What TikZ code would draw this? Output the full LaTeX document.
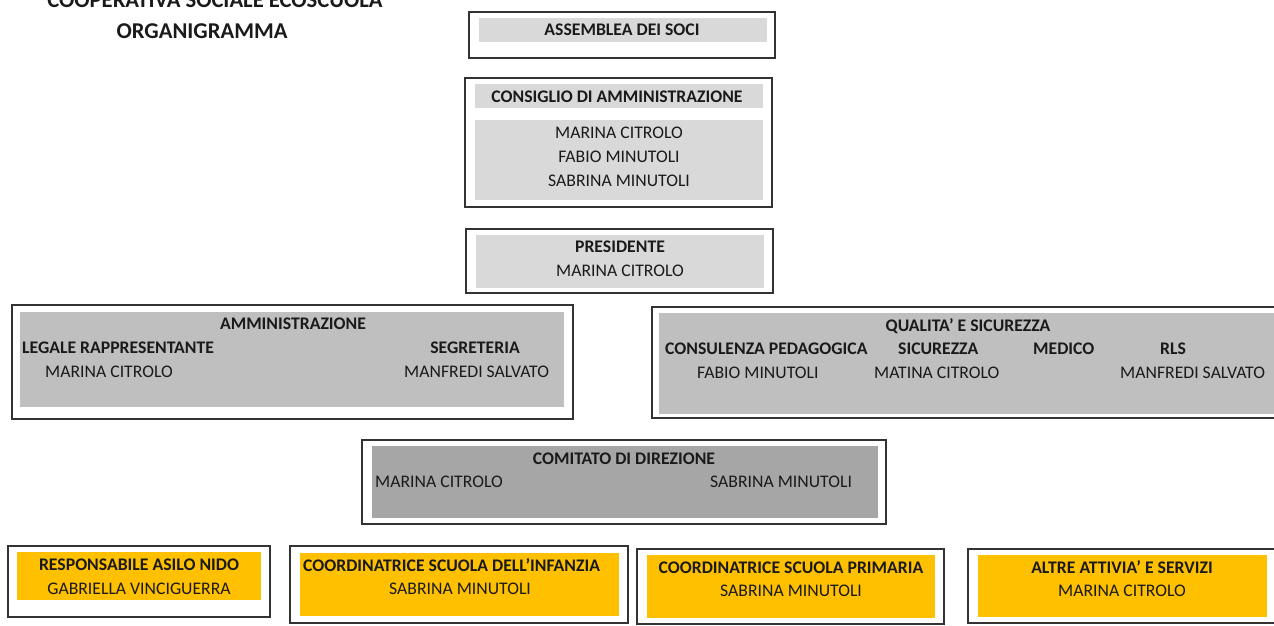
\documentclass[tikz,border=0pt]{standalone}
\usepackage{fontspec}
\setmainfont{Carlito}
\definecolor{gA}{HTML}{D9D9D9}
\definecolor{gB}{HTML}{BFBFBF}
\definecolor{gC}{HTML}{A6A6A6}
\definecolor{yel}{HTML}{FFC000}
\definecolor{ink}{HTML}{1A1A1A}
\tikzset{
  outer/.style={draw=black!80, line width=1.3pt},
  txt/.style={inner sep=0pt, anchor=base, text=ink, font=\fontsize{17.7}{21}\selectfont},
  btxt/.style={txt, font=\fontsize{17.7}{21}\selectfont\bfseries},
  ttl/.style={inner sep=0pt, anchor=base, text=ink, font=\fontsize{22.6}{27}\selectfont\bfseries},
}
\begin{document}
\begin{tikzpicture}[x=1pt,y=-1pt]
\useasboundingbox (0,0) rectangle (1274,626);
\clip (0,0) rectangle (1274,626);
% title
\node[ttl] (t1) at (215,8) {COOPERATIVA SOCIALE ECOSCUOLA};
\node[ttl] (t2) at (202,39) {ORGANIGRAMMA};
% Assemblea
\draw[outer] (469,12) rectangle (775,58);
\fill[gA] (479,18) rectangle (767,42);
\node[btxt] (ass) at (622,36) {ASSEMBLEA DEI SOCI};
% Consiglio
\draw[outer] (465,78) rectangle (772,207);
\fill[gA] (475,84) rectangle (763,108);
\fill[gA] (475,120) rectangle (763,200);
\node[btxt] (cda) at (617,102) {CONSIGLIO DI AMMINISTRAZIONE};
\node[txt] (cda1) at (619,138) {MARINA CITROLO};
\node[txt] (cda2) at (619,162) {FABIO MINUTOLI};
\node[txt] (cda3) at (619,186) {SABRINA MINUTOLI};
% Presidente
\draw[outer] (466,229) rectangle (773,293);
\fill[gA] (476,235) rectangle (764,288);
\node[btxt] (pres) at (620,252) {PRESIDENTE};
\node[txt] (pres1) at (620,276) {MARINA CITROLO};
% Amministrazione
\draw[outer] (12,305) rectangle (573,419);
\fill[gB] (20,312) rectangle (564,407);
\node[btxt] (amm) at (293,329) {AMMINISTRAZIONE};
\node[btxt,anchor=base west] (leg) at (22,353) {LEGALE RAPPRESENTANTE};
\node[btxt] (seg) at (475,353) {SEGRETERIA};
\node[txt,anchor=base west] (leg1) at (45,377) {MARINA CITROLO};
\node[txt,anchor=base west] (seg1) at (404,377) {MANFREDI SALVATO};
% Qualita
\draw[outer] (652,307) rectangle (1290,418);
\fill[gB] (659,313) rectangle (1290,414);
\node[btxt] (qs) at (968,331) {QUALITA’ E SICUREZZA};
\node[btxt,anchor=base west] (cp) at (665,354) {CONSULENZA PEDAGOGICA};
\node[btxt,anchor=base west] (sic) at (898,354) {SICUREZZA};
\node[btxt,anchor=base west] (med) at (1033,354) {MEDICO};
\node[btxt,anchor=base west] (rls) at (1160,354) {RLS};
\node[txt,anchor=base west] (cp1) at (697,378) {FABIO MINUTOLI};
\node[txt,anchor=base west] (sic1) at (874,378) {MATINA CITROLO};
\node[txt,anchor=base west] (rls1) at (1120,378) {MANFREDI SALVATO};
% Comitato
\draw[outer] (362,440) rectangle (886,524);
\fill[gC] (372,446) rectangle (878,518);
\node[btxt] (com) at (624,464) {COMITATO DI DIREZIONE};
\node[txt,anchor=base west] (com1) at (375,487) {MARINA CITROLO};
\node[txt,anchor=base west] (com2) at (710,487) {SABRINA MINUTOLI};
% bottom row
\draw[outer] (8,546) rectangle (270,617);
\fill[yel] (17,552) rectangle (261,600);
\node[btxt] (asilo) at (139,570) {RESPONSABILE ASILO NIDO};
\node[txt] (asilo1) at (139,594) {GABRIELLA VINCIGUERRA};
\draw[outer] (290,546) rectangle (628,623);
\fill[yel] (300,553) rectangle (619,616);
\node[btxt,anchor=base west] (inf) at (303,571) {COORDINATRICE SCUOLA DELL’INFANZIA};
\node[txt] (inf1) at (460,594) {SABRINA MINUTOLI};
\draw[outer] (637,549) rectangle (944,624);
\fill[yel] (647,555) rectangle (935,618);
\node[btxt] (pri) at (791,573) {COORDINATRICE SCUOLA PRIMARIA};
\node[txt] (pri1) at (791,596) {SABRINA MINUTOLI};
\draw[outer] (968,549) rectangle (1290,623);
\fill[yel] (978,555) rectangle (1267,617);
\node[btxt] (alt) at (1122,573) {ALTRE ATTIVIA’ E SERVIZI};
\node[txt] (alt1) at (1122,596) {MARINA CITROLO};
\end{tikzpicture}
\end{document}
